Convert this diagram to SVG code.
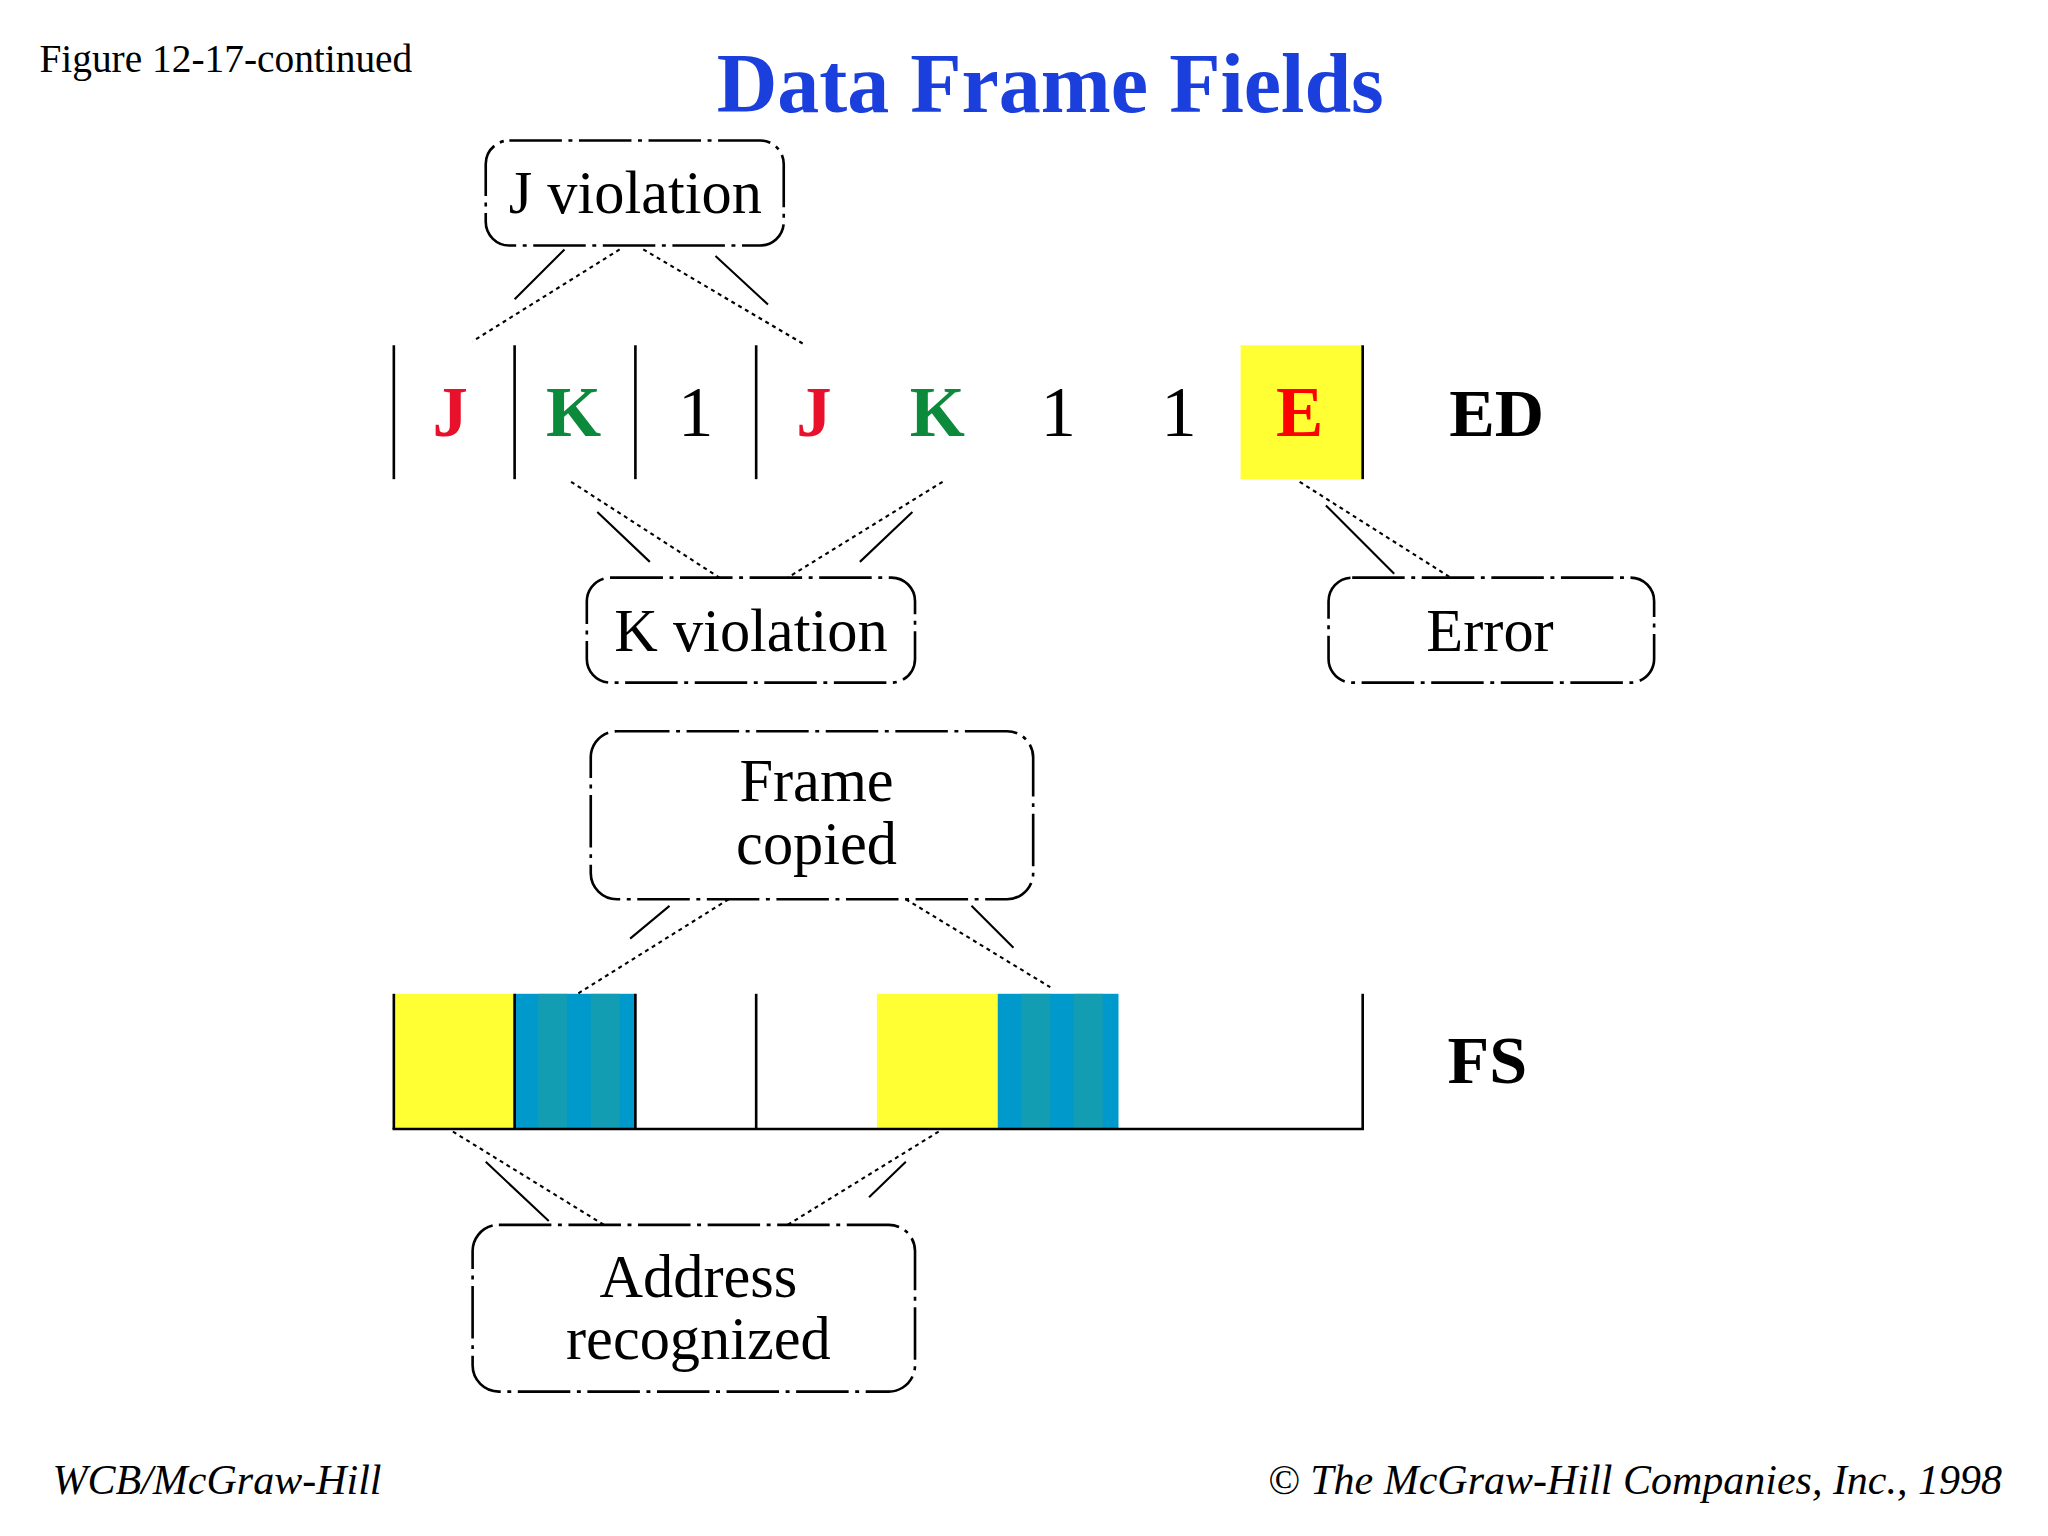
<svg xmlns="http://www.w3.org/2000/svg" width="2048" height="1536" viewBox="0 0 2048 1536">
<style>
.t{font-family:"Liberation Serif",serif;fill:#000}
.b{fill:none;stroke:#000;stroke-width:2;stroke-dasharray:40,5,3,5}
.p{stroke:#000;stroke-width:1.6;stroke-dasharray:3,3;fill:none}
.s{stroke:#000;stroke-width:1.6;fill:none}
.v{stroke:#000;stroke-width:2}
</style>
<rect width="2048" height="1536" fill="#fff"/>
<g transform="scale(1.3128)">
<text class="t" x="30" y="55" font-size="30">Figure 12-17-continued</text>
<text x="800" y="85" text-anchor="middle" font-family="Liberation Serif,serif" font-weight="bold" font-size="64" fill="#1a3fdc">Data Frame Fields</text>
<g id="ed">
<rect x="945" y="263" width="93" height="102" fill="#ffff33"/>
<g class="v"><line x1="300" y1="263" x2="300" y2="365"/><line x1="392" y1="263" x2="392" y2="365"/><line x1="484" y1="263" x2="484" y2="365"/><line x1="576" y1="263" x2="576" y2="365"/><line x1="1038" y1="263" x2="1038" y2="365"/></g>
<g class="t" font-size="54" text-anchor="middle">
<text x="343" y="332" fill="#e8102a" style="fill:#e8102a" font-weight="bold">J</text>
<text x="437" y="332" style="fill:#0a8a3a" font-weight="bold">K</text>
<text x="530" y="332">1</text>
<text x="620" y="332" style="fill:#e8102a" font-weight="bold">J</text>
<text x="714" y="332" style="fill:#0a8a3a" font-weight="bold">K</text>
<text x="806" y="332">1</text>
<text x="898" y="332">1</text>
<text x="990" y="332" style="fill:#f00" font-weight="bold">E</text>
</g>
<text class="t" x="1140" y="332" font-size="52" font-weight="bold" text-anchor="middle">ED</text>
</g>
<g id="fs">
<rect x="300" y="757" width="92" height="103" fill="#ffff33"/>
<rect x="392" y="757" width="92" height="103" fill="#0099cc"/>
<rect x="410" y="757" width="22" height="103" fill="#20a0a0" opacity="0.6"/>
<rect x="450" y="757" width="22" height="103" fill="#20a0a0" opacity="0.6"/>
<rect x="668" y="757" width="92" height="103" fill="#ffff33"/>
<rect x="760" y="757" width="92" height="103" fill="#0099cc"/>
<rect x="778" y="757" width="22" height="103" fill="#20a0a0" opacity="0.6"/>
<rect x="818" y="757" width="22" height="103" fill="#20a0a0" opacity="0.6"/>
<g class="v"><line x1="300" y1="757" x2="300" y2="860"/><line x1="392" y1="757" x2="392" y2="860"/><line x1="484" y1="757" x2="484" y2="860"/><line x1="576" y1="757" x2="576" y2="860"/><line x1="1038" y1="757" x2="1038" y2="860"/><line x1="299" y1="860" x2="1039" y2="860"/></g>
<text class="t" x="1133" y="825" font-size="52" font-weight="bold" text-anchor="middle">FS</text>
</g>
<g id="jviol"><rect class="b" x="370" y="107" width="227" height="80" rx="18"/><text class="t" x="484" y="162" font-size="46" text-anchor="middle">J violation</text></g>
<g id="kviol"><rect class="b" x="447" y="440" width="250" height="80" rx="18"/><text class="t" x="572" y="496" font-size="46" text-anchor="middle">K violation</text></g>
<g id="error"><rect class="b" x="1012" y="440" width="248" height="80" rx="18"/><text class="t" x="1135" y="496" font-size="46" text-anchor="middle">Error</text></g>
<g id="copied"><rect class="b" x="450" y="557" width="337" height="128" rx="20"/><text class="t" x="622" y="610" font-size="46" text-anchor="middle">Frame</text><text class="t" x="622" y="658" font-size="46" text-anchor="middle">copied</text></g>
<g id="addr"><rect class="b" x="360" y="933" width="337" height="127" rx="20"/><text class="t" x="532" y="988" font-size="46" text-anchor="middle">Address</text><text class="t" x="532" y="1035" font-size="46" text-anchor="middle">recognized</text></g>
<g id="connectors">
<path class="p" d="M472 190 L360 260 M490 190 L612 262 M435 367 L548 440 M718 367 L600 440 M990 367 L1105 440 M555 685 L440 757 M690 685 L800 752 M345 862 L460 933 M715 862 L600 933"/>
<path class="s" d="M430 190 L392 228 M545 195 L585 232 M455 390 L495 428 M695 390 L655 428 M1010 385 L1062 437 M510 690 L480 715 M740 690 L772 722 M370 885 L418 930 M690 885 L662 912"/>
</g>
<text class="t" x="40" y="1138" font-size="32" font-style="italic">WCB/McGraw-Hill</text>
<text class="t" x="1525" y="1138" font-size="32" font-style="italic" text-anchor="end">© The McGraw-Hill Companies, Inc., 1998</text>
</g>
</svg>
